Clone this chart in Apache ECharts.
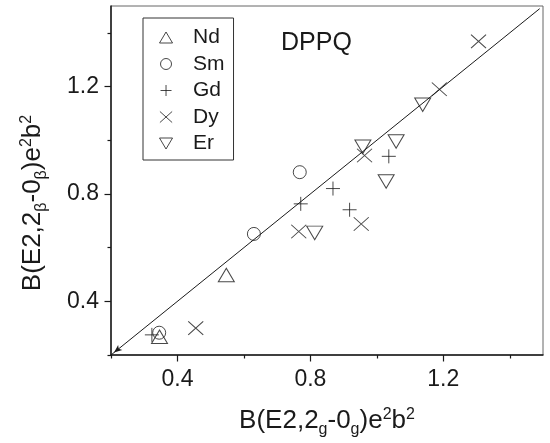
<!DOCTYPE html>
<html>
<head>
<meta charset="utf-8">
<script src="https://cdn.jsdelivr.net/npm/echarts@6/dist/echarts.min.js"></script>
<style>
  html, body { margin: 0; padding: 0; background: #fff; }
  #chart { width: 550px; height: 443px; }
</style>
</head>
<body>
<div id="chart"></div>
<script>
// B(E2) values: ground band (x) vs beta band (y), in e^2 b^2
const elements = ['Nd', 'Sm', 'Gd', 'Dy', 'Er'];
const nd = [[0.547, 0.498], [0.346, 0.268]];
const sm = [[0.345, 0.283], [0.630, 0.651], [0.768, 0.881]];
const gd = [[0.323, 0.275], [0.771, 0.763], [0.868, 0.820], [0.918, 0.741], [1.036, 0.940]];
const dy = [[0.455, 0.300], [0.765, 0.660], [0.953, 0.688], [0.963, 0.943], [1.188, 1.190], [1.306, 1.368]];
const er = [[0.813, 0.655], [0.958, 0.976], [1.028, 0.846], [1.058, 0.995], [1.138, 1.132]];

// y = x reference line
const refLine = [[0.2, 0.2], [1.49, 1.49]];

// axis ticks and labels
const axisMin = 0.2, axisMax = 1.5;
const majorTicks = [0.4, 0.8, 1.2];
const minorTicks = [0.2, 0.6, 1.0, 1.4];
const tickLabels = [0.4, 0.8, 1.2];

const FONT = "'Liberation Sans', Arial, Helvetica, sans-serif";
const INK = '#1a1a1a';

const symbols = {
  Nd: { symbol: 'path://M8,0 L16,13.5 L0,13.5 Z', size: [16, 13.5] },
  Sm: { symbol: 'circle', size: 13 },
  Gd: { symbol: 'path://M7,0 L7,14 M0,7 L14,7', size: 14 },
  Dy: { symbol: 'path://M0,0 L15,13.5 M15,0 L0,13.5', size: [15, 13.5] },
  Er: { symbol: 'path://M0,0 L16,0 L8,13.5 Z', size: [16, 13.5] }
};
const seriesData = { Nd: nd, Sm: sm, Gd: gd, Dy: dy, Er: er };

const hollow = { color: 'transparent', borderColor: INK, borderWidth: 1 };

function valueAxis(major, pos) {
  return {
    type: 'value', position: pos, min: axisMin, max: axisMax, interval: 0.2,
    axisLine: major ? { show: true, onZero: false, lineStyle: { color: INK, width: 1.5 } } : { show: false },
    axisTick: {
      show: true, inside: false,
      customValues: major ? majorTicks : minorTicks,
      length: major ? 6.5 : 3.5,
      lineStyle: { color: INK, width: 1.2 }
    },
    axisLabel: major ? {
      show: true, customValues: tickLabels,
      formatter: v => v.toFixed(1),
      fontFamily: FONT, fontSize: 23, color: INK, margin: pos === 'bottom' ? 13 : 12
    } : { show: false },
    splitLine: { show: false }
  };
}

const richScripts = {
  sub: { fontFamily: FONT, fontSize: 16, fill: INK, padding: [17, 0, 0, 0] },
  sup: { fontFamily: FONT, fontSize: 16, fill: INK, padding: [0, 0, 13, 0] }
};

const series = elements.map(name => ({
  name: name,
  type: 'scatter',
  xAxisIndex: 0, yAxisIndex: 0,
  symbol: symbols[name].symbol,
  symbolSize: symbols[name].size,
  itemStyle: hollow,
  emphasis: { disabled: true },
  data: seriesData[name],
  z: 3
}));

series.push({
  name: 'y = x',
  type: 'line',
  xAxisIndex: 0, yAxisIndex: 0,
  data: refLine.map((p, i) => i === 0
    ? { value: p, symbol: 'arrow', symbolSize: [5, 8], symbolRotate: 128.8, symbolOffset: [3, -2.5] }
    : { value: p, symbol: 'none' }),
  showSymbol: true,
  itemStyle: { color: INK },
  lineStyle: { color: INK, width: 1 },
  silent: true,
  z: 2
});

const chart = echarts.init(document.getElementById('chart'), null, { renderer: 'canvas' });
chart.setOption({
  animation: false,
  backgroundColor: '#fff',
  grid: { left: 111, top: 6, right: 7, bottom: 88, show: true, borderColor: '#666', borderWidth: 1 },
  xAxis: [valueAxis(true, 'bottom'), valueAxis(false, 'bottom')],
  yAxis: [valueAxis(true, 'left'), valueAxis(false, 'left')],
  legend: {
    data: elements,
    orient: 'vertical',
    left: 143, top: 18,
    padding: [9, 9, 6, 16],
    itemWidth: 44, itemHeight: 11, itemGap: 5.5,
    borderColor: '#333', borderWidth: 1,
    itemStyle: hollow,
    textStyle: { fontFamily: FONT, fontSize: 21, color: INK },
    selectedMode: false
  },
  graphic: [
    {
      type: 'text', x: 281, y: 43.5, silent: true,
      style: { text: 'DPPQ', fontFamily: FONT, fontSize: 25, fill: INK, align: 'left', verticalAlign: 'middle' }
    },
    {
      type: 'text', x: 327, y: 421, silent: true,
      style: {
        text: 'B(E2,2{sub|g}-0{sub|g})e{sup|2}b{sup|2}',
        fontFamily: FONT, fontSize: 26, fill: INK, align: 'center', verticalAlign: 'middle',
        rich: richScripts
      }
    },
    {
      type: 'text', x: 33, y: 203, rotation: Math.PI / 2, silent: true,
      style: {
        text: 'B(E2,2{sub|β}-0{sub|β})e{sup|2}b{sup|2}',
        fontFamily: FONT, fontSize: 26, fill: INK, align: 'center', verticalAlign: 'middle',
        rich: richScripts
      }
    }
  ],
  series: series
});
</script>
</body>
</html>
